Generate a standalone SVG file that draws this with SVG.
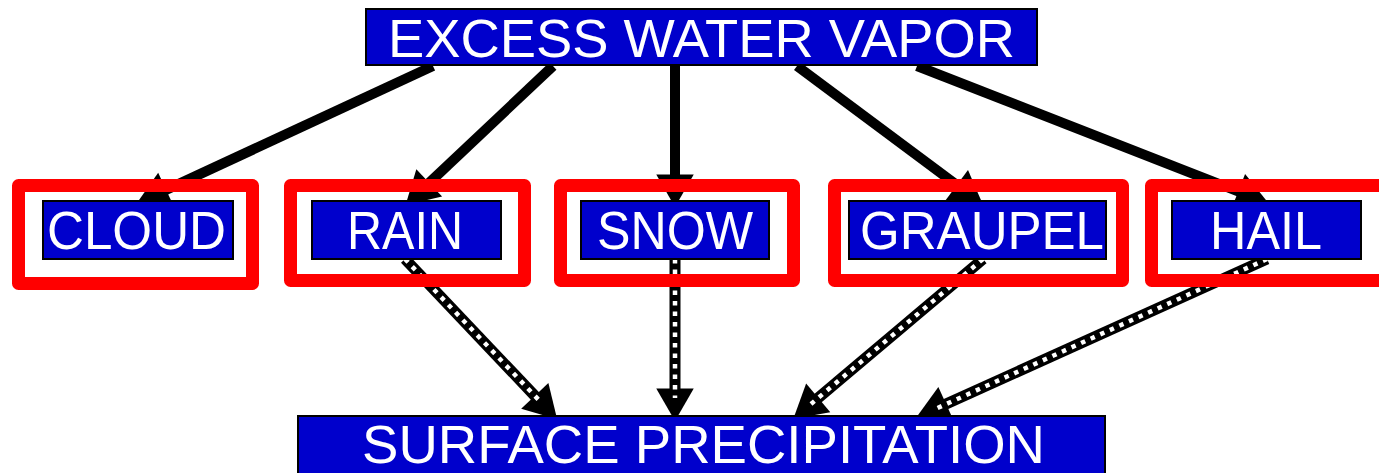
<svg xmlns="http://www.w3.org/2000/svg" width="1379" height="473" viewBox="0 0 1379 473">
<style>
.box{fill:#0000CC;stroke:#000;stroke-width:2}
.frame{fill:none;stroke:#FF0000;stroke-width:13;stroke-linejoin:round}
.lbl{font-family:"Liberation Sans",Arial,sans-serif;font-size:54px;fill:#fff}
.solid{stroke:#000;stroke-width:10;fill:none}
.dk{stroke:#000;stroke-width:11;fill:none}
.dw{stroke:#fff;stroke-width:4.5;stroke-dasharray:4.5 6;fill:none}
</style>
<defs>
<marker id="ah" markerUnits="userSpaceOnUse" markerWidth="40" markerHeight="40" refX="2" refY="0" viewBox="-2 -16 30 32" orient="auto" overflow="visible">
<path d="M0,-15 L26,0 L0,15 z" fill="#000"/>
</marker>
</defs>
<rect width="1379" height="473" fill="#fff"/>
<g id="connectors">
<line class="solid" x1="433" y1="66" x2="163.8" y2="190.9" marker-end="url(#ah)"/>
<line class="solid" x1="553" y1="66" x2="427.4" y2="184.5" marker-end="url(#ah)"/>
<line class="solid" x1="675" y1="66" x2="675" y2="177" marker-end="url(#ah)"/>
<line class="solid" x1="797" y1="66" x2="958.8" y2="186.6" marker-end="url(#ah)"/>
<line class="solid" x1="917" y1="66" x2="1240.6" y2="192.3" marker-end="url(#ah)"/>
<line class="dk" x1="405" y1="259" x2="536.5" y2="397.6" marker-end="url(#ah)"/>
<line class="dw" x1="405" y1="259" x2="542" y2="403.4"/>
<line class="dk" x1="675" y1="259" x2="675" y2="391" marker-end="url(#ah)"/>
<line class="dw" x1="675" y1="259" x2="675" y2="398"/>
<line class="dk" x1="983" y1="259" x2="816.3" y2="399.5" marker-end="url(#ah)"/>
<line class="dw" x1="983" y1="259" x2="811" y2="404"/>
<line class="dk" x1="1267" y1="259" x2="943.8" y2="405" marker-end="url(#ah)"/>
<line class="dw" x1="1267" y1="259" x2="937.5" y2="408"/>
</g>
<g id="excess">
<rect class="box" x="366" y="9" width="671" height="56"/>
<text class="lbl" x="388" y="57" textLength="627" lengthAdjust="spacingAndGlyphs">EXCESS WATER VAPOR</text>
</g>
<g id="cloud">
<rect class="frame" x="18.5" y="185.5" width="234" height="98"/>
<rect class="box" x="43" y="201" width="190" height="58"/>
<text class="lbl" x="47" y="249" textLength="179" lengthAdjust="spacingAndGlyphs">CLOUD</text>
</g>
<g id="rain">
<rect class="frame" x="290.5" y="185.5" width="234" height="95"/>
<rect class="box" x="312" y="201" width="189" height="58"/>
<text class="lbl" x="347" y="249" textLength="116" lengthAdjust="spacingAndGlyphs">RAIN</text>
</g>
<g id="snow">
<rect class="frame" x="560.5" y="185.5" width="233" height="95"/>
<rect class="box" x="581" y="201" width="188" height="58"/>
<text class="lbl" x="597" y="249" textLength="156" lengthAdjust="spacingAndGlyphs">SNOW</text>
</g>
<g id="graupel">
<rect class="frame" x="834.5" y="185.5" width="288" height="95"/>
<rect class="box" x="849" y="201" width="257" height="58"/>
<text class="lbl" x="860" y="249" textLength="244" lengthAdjust="spacingAndGlyphs">GRAUPEL</text>
</g>
<g id="hail">
<rect class="frame" x="1151.5" y="185.5" width="260" height="95"/>
<rect class="box" x="1172" y="201" width="189" height="58"/>
<text class="lbl" x="1210" y="249" textLength="112" lengthAdjust="spacingAndGlyphs">HAIL</text>
</g>
<g id="surface">
<rect class="box" x="298" y="416" width="807" height="70"/>
<text class="lbl" x="362" y="463" font-size="52" textLength="683" lengthAdjust="spacingAndGlyphs">SURFACE PRECIPITATION</text>
</g>
</svg>
